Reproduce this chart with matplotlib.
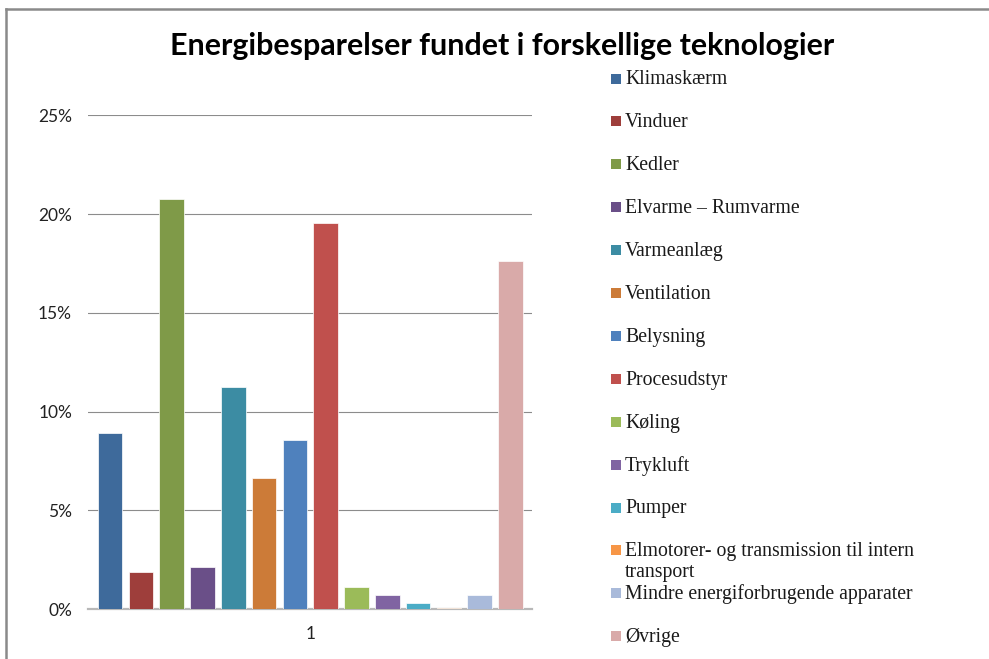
import matplotlib
matplotlib.use("Agg")
import matplotlib.pyplot as plt
from matplotlib.patches import Rectangle
from matplotlib.lines import Line2D

categories = ["Klimaskærm", "Vinduer", "Kedler", "Elvarme – Rumvarme", "Varmeanlæg",
              "Ventilation", "Belysning", "Procesudstyr", "Køling", "Trykluft", "Pumper",
              "Elmotorer- og transmission til intern\ntransport",
              "Mindre energiforbrugende apparater", "Øvrige"]
values = [8.93, 1.87, 20.77, 2.14, 11.23, 6.62, 8.56, 19.57, 1.13, 0.71, 0.30, 0.07, 0.71, 17.6]
colors = ["#3E6A9B", "#9E3E3B", "#7F9A48", "#6A4F88", "#3C8CA3", "#CC7B38", "#4F81BD",
          "#C0504D", "#9BBB59", "#8064A2", "#4BACC6", "#F79646", "#A9BADA", "#D9AAA9"]
yticks = [0, 5, 10, 15, 20, 25]
ytick_labels = ["0%", "5%", "10%", "15%", "20%", "25%"]
xtick_label = "1"
title = "Energibesparelser fundet i forskellige teknologier"

W, H = 989, 659
fig = plt.figure(figsize=(W / 100, H / 100), dpi=100)
fig.patch.set_facecolor("white")

# axes placement in pixels
ax_l, ax_r, ax_b, ax_t = 88, 532, 609, 115.3
ax = fig.add_axes([ax_l / W, 1 - ax_b / H, (ax_r - ax_l) / W, (ax_b - ax_t) / H])

xs = list(range(len(values)))
ax.bar(xs, values, width=0.8, color=colors, edgecolor="white", linewidth=0.5, zorder=3)
ax.set_xlim(-0.72, len(values) - 1 + 0.70)
ax.set_ylim(0, 25)
ax.set_yticks(yticks)
ax.set_yticklabels(ytick_labels, fontsize=12.5, color="#222222", family=["Lato", "DejaVu Sans"])
ax.set_xticks([(len(values) - 1) / 2])
ax.set_xticklabels([xtick_label], fontsize=12.5, color="#222222", family=["Lato", "DejaVu Sans"])
ax.tick_params(axis="y", length=0, pad=11.5)
ax.tick_params(axis="x", length=0, pad=12)
ax.yaxis.grid(True, color="#8C8C8C", linewidth=0.8, zorder=0)
ax.set_axisbelow(True)
for s in ["left", "right", "top"]:
    ax.spines[s].set_visible(False)
ax.spines["bottom"].set_color("#B8B8B8")
ax.spines["bottom"].set_linewidth(1.6)

# title
fig.text(502 / W, 1 - 46 / H, title, ha="center", va="center", fontsize=21.9,
         fontweight="bold", family=["Lato", "DejaVu Sans"], color="black")

# legend (manual to keep Excel slot positions)
slot0, step = 78.5, 42.9
for i, (lab, c) in enumerate(zip(categories, colors)):
    yc = slot0 + i * step
    fig.patches.append(Rectangle((611 / W, 1 - (yc + 5) / H), 10 / W, 10 / H,
                                 transform=fig.transFigure, facecolor=c, edgecolor="none"))
    for j, line in enumerate(lab.split("\n")):
        fig.text(625 / W, 1 - (yc + 6 + j * 21) / H, line, ha="left", va="baseline",
                 fontsize=14.2, family="Liberation Serif", color="#1A1A1A")

# outer frame lines
fig.add_artist(Line2D([6 / W, 1], [1 - 9 / H, 1 - 9 / H], transform=fig.transFigure,
                      color="#8A8A8A", linewidth=1.8))
fig.add_artist(Line2D([6 / W, 6 / W], [0, 1 - 9 / H], transform=fig.transFigure,
                      color="#8A8A8A", linewidth=1.8))

fig.savefig("out.png", dpi=100)
